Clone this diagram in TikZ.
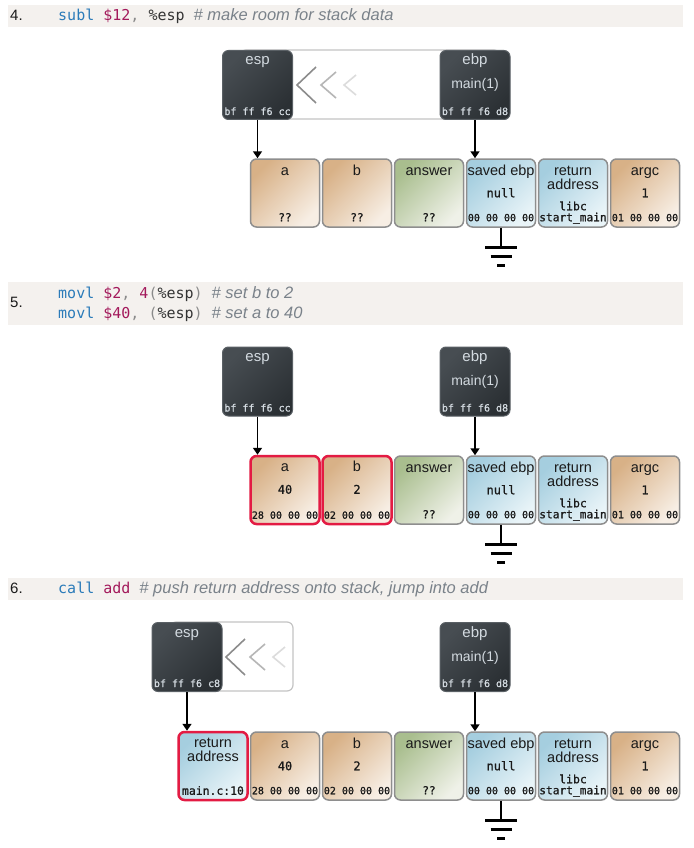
\documentclass[tikz,border=0pt]{standalone}
\usepackage{fontspec}
\setmainfont{Liberation Sans}
\newfontfamily\monof{DejaVu Sans Mono}
\newfontfamily\monofb{DejaVu Sans Mono}[FakeBold=0.8]
\usetikzlibrary{arrows.meta}
\definecolor{tanA}{HTML}{D8B187}
\definecolor{tanB}{HTML}{F7EEE4}
\definecolor{grnA}{HTML}{A9BE8E}
\definecolor{grnB}{HTML}{EFF1E8}
\definecolor{bluA}{HTML}{A5CEDF}
\definecolor{bluB}{HTML}{E9F4F8}
\definecolor{cellbd}{HTML}{8E8E8E}
\definecolor{regA}{HTML}{474D52}
\definecolor{regB}{HTML}{2B3034}
\definecolor{regbd}{HTML}{5A6065}
\definecolor{regtxt}{HTML}{D3DAE0}
\definecolor{hlred}{HTML}{E31B43}
\definecolor{hdrbg}{HTML}{F4F1EE}
\definecolor{kwblue}{HTML}{2B7BB9}
\definecolor{nmred}{HTML}{A3195B}
\definecolor{pngray}{HTML}{8A8A8A}
\definecolor{rgdark}{HTML}{333333}
\definecolor{cmgray}{HTML}{7A828A}
\definecolor{txtc}{HTML}{1A1A1A}
\definecolor{ghostc}{HTML}{C4C4C4}
\definecolor{chA}{HTML}{8C8C8C}
\definecolor{chB}{HTML}{B6B6B6}
\definecolor{chC}{HTML}{DCDCDC}
\newcommand\kwtx[1]{\textcolor{kwblue}{#1}}
\newcommand\nmtx[1]{\textcolor{nmred}{#1}}
\newcommand\pntx[1]{\textcolor{pngray}{#1}}
\newcommand\rgtx[1]{\textcolor{rgdark}{#1}}
\newcommand\cmtx[1]{{\normalfont\itshape\fontsize{16.5}{19}\selectfont\color{cmgray}#1}}
\newcommand\stkcell[7]{%
  \node[#2] (#1) at (#3,#4) {};
  \node[lbl] (#1-l) at ([yshift=-17pt]#1.north) {#5};
  \node[val] (#1-v) at ([yshift=-39pt]#1.north) {#6};
  \node[byt] (#1-b) at ([yshift=6.5pt]#1.south) {#7};}
\newcommand\regbox[6]{%
  \node[reg] (#1) at (#2,#3) {};
  \node[rlbl] (#1-l) at ([yshift=-15pt]#1.north) {#4};
  \node[rval] (#1-v) at ([yshift=-39pt]#1.north) {#5};
  \node[rbyt] (#1-b) at ([yshift=5pt]#1.south) {#6};}
\newcommand\chevs[2]{%
  \draw[chv, chA] ({#1+23},{#2+17}) -- ({#1+4},{#2+35}) -- ({#1+23},{#2+53});
  \draw[chv, chB] ({#1+43},{#2+22}) -- ({#1+28},{#2+35}) -- ({#1+43},{#2+48});
  \draw[chv, chC] ({#1+63},{#2+25}) -- ({#1+51},{#2+35}) -- ({#1+63},{#2+45});}
\newcommand\ground[1]{%
  \coordinate (#1-g) at ([yshift=-20pt]#1.south);
  \draw[gline] (#1.south) -- (#1-g);
  \draw[gbar] ([xshift=-16pt]#1-g) -- ([xshift=16pt]#1-g);
  \draw[gbar] ([xshift=-10.5pt,yshift=-9pt]#1-g) -- ([xshift=10.5pt,yshift=-9pt]#1-g);
  \draw[gbar] ([xshift=-4pt,yshift=-18pt]#1-g) -- ([xshift=4pt,yshift=-18pt]#1-g);}
\begin{document}
\begin{tikzpicture}[x=1pt,y=-1pt,
  cell/.style={draw=cellbd, line width=1.5pt, rounded corners=6pt, minimum width=69pt, minimum height=68pt, inner sep=0pt},
  tanc/.style={cell, top color=tanA, bottom color=tanB, shading angle=45},
  grnc/.style={cell, top color=grnA, bottom color=grnB, shading angle=45},
  bluc/.style={cell, top color=bluA, bottom color=bluB, shading angle=45},
  hl/.style={draw=hlred, line width=2.5pt},
  reg/.style={draw=regbd, line width=1pt, rounded corners=6pt, minimum width=70pt, minimum height=69pt, inner sep=0pt, top color=regA, bottom color=regB, shading angle=45},
  lbl/.style={anchor=base, inner sep=0pt, text=txtc, font=\fontsize{14.5}{16}\selectfont},
  val/.style={anchor=base, inner sep=0pt, text=txtc, font=\monofb\fontsize{12}{14}\selectfont},
  byt/.style={anchor=base, inner sep=0pt, text=txtc, font=\monofb\fontsize{10}{12}\selectfont},
  rlbl/.style={anchor=base, inner sep=0pt, text=regtxt, font=\fontsize{15}{17}\selectfont},
  rval/.style={anchor=base, inner sep=0pt, text=regtxt, font=\fontsize{14}{16}\selectfont},
  rbyt/.style={anchor=base, inner sep=0pt, text=regtxt, font=\monofb\fontsize{10}{12}\selectfont},
  code/.style={anchor=base west, inner sep=0pt, font=\monof\fontsize{15}{18}\selectfont},
  num/.style={anchor=base west, inner sep=0pt, text=txtc, font=\fontsize{15}{18}\selectfont},
  ptr/.style={line width=1.5pt, -{Triangle[width=9pt,length=7pt]}},
  gline/.style={line width=1.5pt},
  gbar/.style={line width=3pt},
  ghost/.style={draw=ghostc, line width=1.2pt, rounded corners=6pt},
  chv/.style={line width=1.6pt}]
\useasboundingbox (0,0) rectangle (693,848);
\fill[white] (0,0) rectangle (693,848);

% ===== Section 4 =====
\fill[hdrbg] (8,5) rectangle (683,27);
\node[num] (n4) at (10,21) {4.};
\node[code] (c4) at (58,21) {\kwtx{subl} \nmtx{\$12}\pntx{,} \rgtx{\%esp} \cmtx{\# make room for stack data}};

\draw[ghost] (240,50) rectangle (500,119);
\chevs{293}{50}
\regbox{esp4}{257.5}{85}{esp}{}{bf ff f6 cc}
\regbox{ebp4}{475}{85}{ebp}{main(1)}{bf ff f6 d8}

\stkcell{a4}{tanc}{285}{193}{a}{}{{\fontsize{11}{13}\selectfont ??}}
\stkcell{b4}{tanc}{357}{193}{b}{}{{\fontsize{11}{13}\selectfont ??}}
\stkcell{an4}{grnc}{429}{193}{answer}{}{{\fontsize{11}{13}\selectfont ??}}
\stkcell{se4}{bluc}{501}{193}{saved ebp}{null}{00 00 00 00}
\stkcell{ra4}{bluc}{573}{193}{return}{}{{\fontsize{11.2}{13}\selectfont start\_main}}
\node[lbl] (ra4-l2) at ([yshift=-31pt]ra4.north) {address};
\node[val] (ra4-x) at ([yshift=17.5pt]ra4.south) {{\fontsize{11.5}{13}\selectfont libc}};
\stkcell{ar4}{tanc}{645}{193}{argc}{1}{01 00 00 00}

\draw[ptr] (esp4.south) -- (esp4.south |- a4.north);
\draw[ptr] (ebp4.south) -- (ebp4.south |- se4.north);
\ground{se4}

% ===== Section 5 =====
\fill[hdrbg] (8,282) rectangle (683,325);
\node[num] (n5) at (10,307) {5.};
\node[code] (c5a) at (58,298) {\kwtx{movl} \nmtx{\$2}\pntx{,} \nmtx{4}\pntx{(}\rgtx{\%esp}\pntx{)} \cmtx{\# set b to 2}};
\node[code] (c5b) at (58,318) {\kwtx{movl} \nmtx{\$40}\pntx{,} \pntx{(}\rgtx{\%esp}\pntx{)} \cmtx{\# set a to 40}};

\regbox{esp5}{257.5}{381.5}{esp}{}{bf ff f6 cc}
\regbox{ebp5}{475}{381.5}{ebp}{main(1)}{bf ff f6 d8}

\stkcell{a5}{tanc,hl}{285}{490}{a}{40}{28 00 00 00}
\stkcell{b5}{tanc,hl}{357}{490}{b}{2}{02 00 00 00}
\stkcell{an5}{grnc}{429}{490}{answer}{}{{\fontsize{11}{13}\selectfont ??}}
\stkcell{se5}{bluc}{501}{490}{saved ebp}{null}{00 00 00 00}
\stkcell{ra5}{bluc}{573}{490}{return}{}{{\fontsize{11.2}{13}\selectfont start\_main}}
\node[lbl] (ra5-l2) at ([yshift=-31pt]ra5.north) {address};
\node[val] (ra5-x) at ([yshift=17.5pt]ra5.south) {{\fontsize{11.5}{13}\selectfont libc}};
\stkcell{ar5}{tanc}{645}{490}{argc}{1}{01 00 00 00}

\draw[ptr] (esp5.south) -- (esp5.south |- a5.north);
\draw[ptr] (ebp5.south) -- (ebp5.south |- se5.north);
\ground{se5}

% ===== Section 6 =====
\fill[hdrbg] (8,578) rectangle (683,600);
\node[num] (n6) at (10,593) {6.};
\node[code] (c6) at (58,593) {\kwtx{call} \nmtx{add} \cmtx{\# push return address onto stack, jump into add}};

\draw[ghost] (170,622) rectangle (293,691);
\chevs{222}{622}
\regbox{esp6}{187}{657}{esp}{}{bf ff f6 c8}
\regbox{ebp6}{475}{657}{ebp}{main(1)}{bf ff f6 d8}

\stkcell{rn6}{bluc,hl}{213}{766}{return}{}{{\fontsize{11.4}{13}\selectfont main.c:10}}
\node[lbl] (rn6-l2) at ([yshift=-31pt]rn6.north) {address};
\stkcell{a6}{tanc}{285}{766}{a}{40}{28 00 00 00}
\stkcell{b6}{tanc}{357}{766}{b}{2}{02 00 00 00}
\stkcell{an6}{grnc}{429}{766}{answer}{}{{\fontsize{11}{13}\selectfont ??}}
\stkcell{se6}{bluc}{501}{766}{saved ebp}{null}{00 00 00 00}
\stkcell{ra6}{bluc}{573}{766}{return}{}{{\fontsize{11.2}{13}\selectfont start\_main}}
\node[lbl] (ra6-l2) at ([yshift=-31pt]ra6.north) {address};
\node[val] (ra6-x) at ([yshift=17.5pt]ra6.south) {{\fontsize{11.5}{13}\selectfont libc}};
\stkcell{ar6}{tanc}{645}{766}{argc}{1}{01 00 00 00}

\draw[ptr] (esp6.south) -- (esp6.south |- rn6.north);
\draw[ptr] (ebp6.south) -- (ebp6.south |- se6.north);
\ground{se6}
\end{tikzpicture}
\end{document}
